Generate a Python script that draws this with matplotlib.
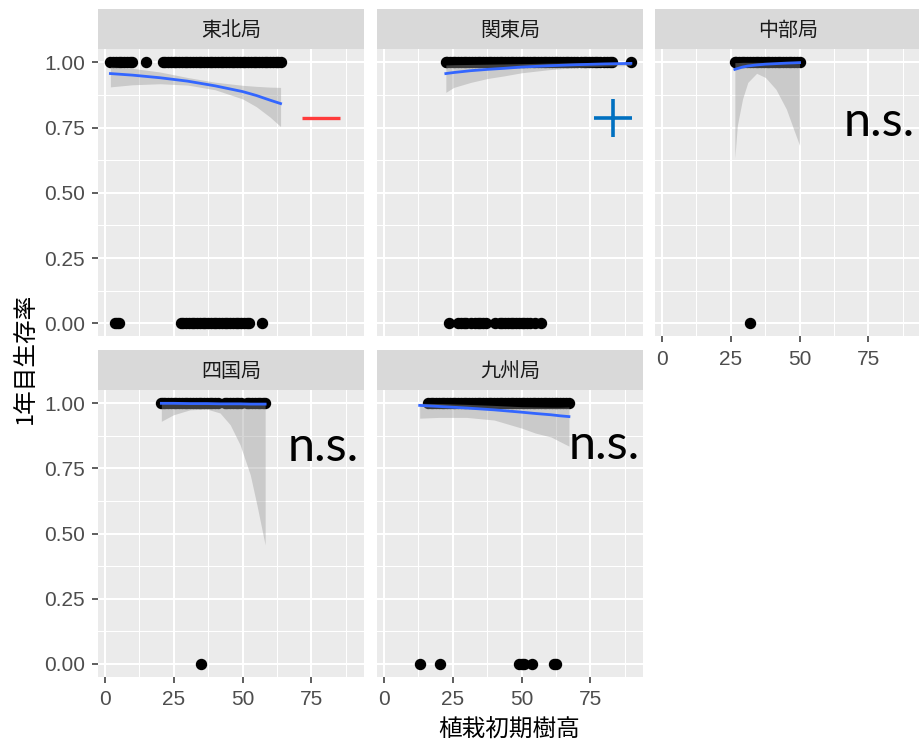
import matplotlib
matplotlib.use("Agg")
import matplotlib.pyplot as plt

# survival (1 = alive, 0 = dead) against initial planting height, per regional bureau
tohoku_alive = [2, 3, 4, 5, 6, 7, 8, 9, 10, 15, 21, 22, 23, 24, 25, 26, 27, 28, 29,
                30, 31, 32, 33, 34, 35, 36, 37, 38, 39, 40, 41, 42, 43, 44, 45, 46, 47,
                48, 49, 50, 51, 52, 53, 54, 55, 56, 57, 58, 59, 60, 61, 62, 63, 63.8]
tohoku_dead = [3.5, 4.5, 5, 27.5, 28.5, 29.5, 30.5, 31.5, 32.5, 33.5, 34.5, 35.5, 36.5,
               37.5, 38.5, 39.5, 40.5, 41.5, 42.5, 43.5, 44.5, 45.5, 46.5, 47.5, 48.5,
               49.5, 50.5, 51.5, 52.5, 57]

kanto_alive = [22.5, 23, 24, 25, 26, 27, 28, 29, 30, 31, 32, 33, 34, 35, 36, 37, 38,
               39, 40, 41, 42, 43, 44, 45, 46, 47, 48, 49, 50, 51, 52, 53, 54, 55, 56,
               57, 58, 59, 60, 61, 62, 63, 64, 65, 66, 67, 68, 69, 70, 71.5, 72.5, 73.5,
               74.5, 75.5, 76.5, 77.5, 78.5, 80, 81, 82, 83, 89.7]
kanto_dead = [23.5, 27, 28, 29, 30, 31.5, 33, 34, 35, 36, 37, 40.5, 42, 43, 44, 45, 46,
              47, 48, 49, 50, 51, 52, 53, 55, 57]

chubu_alive = [26.5, 27, 28, 29, 30, 31, 32, 33, 34, 35, 36, 37, 38, 39, 40, 41, 42, 43,
               44, 45, 46, 47, 48, 49, 50]
chubu_dead = [32]

shikoku_alive = [20.5, 21, 22, 23, 24, 25, 26, 27, 28, 29, 30, 31, 32, 33, 34, 35, 36,
                 37, 38, 39, 40, 41, 43.5, 44.5, 45.5, 46.5, 47.5, 48.5, 49.5, 51.5,
                 52.5, 53.5, 54.5, 55.5, 56.5, 57.5, 58.2]
shikoku_dead = [35]

kyushu_alive = [16, 17, 18, 19, 20, 21, 22, 23, 24, 25, 26, 27, 28, 29, 30, 31, 32, 33,
                34, 35, 36, 37, 38, 39, 40, 41, 42, 43, 44, 45, 46, 47, 48, 49, 50, 51,
                52, 53, 54, 55, 56, 57, 58, 59, 60, 61, 62, 63, 64, 65, 66, 67.2]
kyushu_dead = [13.2, 20.5, 49.2, 50.2, 51, 53.8, 61.7, 62.6]

# fitted logistic curves (binomial glm) with their 95% bands
tohoku_fit_x = [2, 10, 20, 30, 40, 50, 55, 60, 63.8]
tohoku_fit = [0.957, 0.951, 0.941, 0.928, 0.910, 0.888, 0.873, 0.855, 0.842]
tohoku_lo = [0.906, 0.914, 0.918, 0.913, 0.895, 0.860, 0.830, 0.790, 0.754]
tohoku_hi = [0.983, 0.977, 0.963, 0.942, 0.924, 0.912, 0.908, 0.905, 0.904]

kanto_fit_x = [22.5, 25.4, 31.5, 37.6, 43.6, 50, 60, 70, 80, 89.7]
kanto_fit = [0.957, 0.961, 0.968, 0.973, 0.977, 0.982, 0.987, 0.991, 0.994, 0.996]
kanto_lo = [0.885, 0.904, 0.923, 0.938, 0.948, 0.960, 0.972, 0.980, 0.985, 0.988]
kanto_hi = [0.990, 0.991, 0.992, 0.993, 0.994, 0.995, 0.997, 0.998, 0.999, 0.999]

chubu_fit_x = [26.5, 27.4, 29.3, 31.2, 34.4, 37.6, 41.4, 45.2, 47.8, 50]
chubu_fit = [0.973, 0.976, 0.982, 0.986, 0.990, 0.993, 0.995, 0.997, 0.998, 0.999]
chubu_lo = [0.634, 0.758, 0.860, 0.923, 0.958, 0.942, 0.897, 0.821, 0.745, 0.682]
chubu_hi = [0.999, 0.999, 1.0, 1.0, 1.0, 1.0, 1.0, 1.0, 1.0, 1.0]

shikoku_fit_x = [20.5, 24.9, 30.9, 37, 41.8, 45.5, 49.1, 52.8, 55.2, 58.2]
shikoku_fit = [0.999, 0.999, 0.998, 0.998, 0.997, 0.997, 0.997, 0.996, 0.996, 0.996]
shikoku_lo = [0.930, 0.955, 0.974, 0.977, 0.962, 0.917, 0.840, 0.725, 0.610, 0.456]
shikoku_hi = [1.0, 1.0, 1.0, 1.0, 1.0, 1.0, 1.0, 1.0, 1.0, 1.0]

kyushu_fit_x = [13, 20, 30, 40, 50, 55, 60.7, 64, 67.2]
kyushu_fit = [0.991, 0.987, 0.981, 0.974, 0.965, 0.960, 0.955, 0.951, 0.948]
kyushu_lo = [0.942, 0.945, 0.945, 0.935, 0.904, 0.885, 0.870, 0.852, 0.835]
kyushu_hi = [0.999, 0.998, 0.995, 0.991, 0.986, 0.985, 0.984, 0.984, 0.985]

bureaus = ["東北局", "関東局", "中部局", "四国局", "九州局"]
alive = [tohoku_alive, kanto_alive, chubu_alive, shikoku_alive, kyushu_alive]
dead = [tohoku_dead, kanto_dead, chubu_dead, shikoku_dead, kyushu_dead]
fit_x = [tohoku_fit_x, kanto_fit_x, chubu_fit_x, shikoku_fit_x, kyushu_fit_x]
fit_y = [tohoku_fit, kanto_fit, chubu_fit, shikoku_fit, kyushu_fit]
fit_lo = [tohoku_lo, kanto_lo, chubu_lo, shikoku_lo, kyushu_lo]
fit_hi = [tohoku_hi, kanto_hi, chubu_hi, shikoku_hi, kyushu_hi]

x_ticks = [0, 25, 50, 75]
y_ticks = [0.0, 0.25, 0.5, 0.75, 1.0]
y_labels = ["0.00", "0.25", "0.50", "0.75", "1.00"]

W, H = 919, 744
CJK = ["Noto Sans CJK JP", "DejaVu Sans"]
COL_LEFT = [98, 377, 655]
ROW_STRIP = [9.3, 350]
STRIP_H, PANEL_H, PANEL_W = 40, 287, 266


def px_axes(fig, left, top, width, height):
    return fig.add_axes([left / W, 1 - (top + height) / H, width / W, height / H])


fig = plt.figure(figsize=(W / 100, H / 100), dpi=100)
panels = []
for i, name in enumerate(bureaus):
    row, col = divmod(i, 3)
    left, top = COL_LEFT[col], ROW_STRIP[row]

    strip = px_axes(fig, left, top, PANEL_W, STRIP_H)
    strip.set_facecolor("#d9d9d9")
    strip.set_xticks([])
    strip.set_yticks([])
    for s in strip.spines.values():
        s.set_visible(False)
    strip.text(0.5, 0.47, name, ha="center", va="center", fontsize=14.4,
               color="#1a1a1a", family=CJK, transform=strip.transAxes)

    ax = px_axes(fig, left, top + STRIP_H, PANEL_W, PANEL_H)
    ax.set_facecolor("#ebebeb")
    ax.set_xlim(-2.5, 94.1)
    ax.set_ylim(-0.05, 1.05)
    ax.set_xticks(x_ticks)
    ax.set_xticks([12.5, 37.5, 62.5, 87.5], minor=True)
    ax.set_yticks(y_ticks)
    ax.set_yticks([0.125, 0.375, 0.625, 0.875], minor=True)
    ax.grid(which="major", color="white", lw=1.5)
    ax.grid(which="minor", color="white", lw=0.75)
    ax.set_axisbelow(True)
    for s in ax.spines.values():
        s.set_visible(False)
    ax.tick_params(which="minor", length=0)
    ax.tick_params(which="major", length=4.2, width=1.1, color="#333333",
                   labelsize=15, labelcolor="#4d4d4d")
    ax.tick_params(axis="x", pad=5.5)
    ax.tick_params(axis="y", pad=5)
    for lab in ax.get_xticklabels() + ax.get_yticklabels():
        lab.set_family("Liberation Sans")

    if col == 0:
        ax.set_yticklabels(y_labels)
    else:
        ax.tick_params(axis="y", length=0, labelleft=False)
    if row == 0 and col < 2:
        ax.tick_params(axis="x", length=0, labelbottom=False)

    ax.plot(alive[i], [1] * len(alive[i]), "o", ms=7.2, color="black", zorder=2)
    ax.plot(dead[i], [0] * len(dead[i]), "o", ms=7.2, color="black", zorder=2)
    ax.fill_between(fit_x[i], fit_lo[i], fit_hi[i], color="#999999", alpha=0.4,
                    lw=0, zorder=3)
    ax.plot(fit_x[i], fit_y[i], color="#3366ff", lw=2.0, zorder=4)
    panels.append(ax)

# direction of the effect: negative, positive, not significant
panels[0].plot([78.6], [0.786], marker="_", ms=27, mew=2.4, color="#ff3b3b")
panels[1].plot([83.1], [0.786], marker="+", ms=27, mew=2.6, color="#0070c0")
for k, (tx, ty) in zip([2, 3, 4], [(66.1, 0.719), (66.4, 0.779), (67.0, 0.786)]):
    panels[k].text(tx, ty, "n.s.", ha="left", va="baseline", fontsize=35,
                   family="Lato", color="black")

fig.text(25 / W, 1 - 358 / H, "1年目生存率", rotation=90, ha="center", va="center",
         fontsize=17, family=CJK)
fig.text(509 / W, 1 - 730 / H, "植栽初期樹高", ha="center", va="center",
         fontsize=17, family=CJK)

fig.savefig("out.png", dpi=100)
